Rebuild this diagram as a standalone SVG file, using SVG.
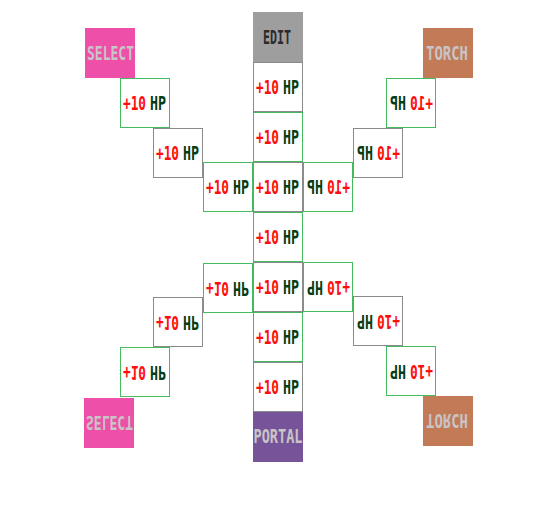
<svg xmlns="http://www.w3.org/2000/svg" width="556" height="506" viewBox="0 0 556 506">
<style>
.t{fill:#ffffff;stroke-width:1}
.g{stroke:#8a8a8a}
.n{stroke:#45ba5e}
text{font-family:"DejaVu Sans Mono","Liberation Mono",monospace;font-weight:bold;font-size:19.5px}
.r{fill:#ff0d0d}
.h{fill:#063d14}
.lbl{fill:#c9c4c6}
</style>
<defs>
<g id="hp">
<text x="3" y="31.5" class="r" textLength="23" lengthAdjust="spacingAndGlyphs">+10</text>
<text x="30" y="31.5" class="h" textLength="16" lengthAdjust="spacingAndGlyphs">HP</text>
</g>
</defs>
<rect width="556" height="506" fill="#ffffff"/>
<g id="connectors"/>
<g id="edit" transform="translate(253,12)"><rect width="50" height="50" fill="#9e9e9e"/><text x="10" y="32" fill="#2b2b2b" textLength="28" lengthAdjust="spacingAndGlyphs">EDIT</text></g>
<g id="select-top" transform="translate(85,28)"><rect width="50" height="50" fill="#ee4fa8"/><text x="2" y="32" class="lbl" textLength="47" lengthAdjust="spacingAndGlyphs">SELECT</text></g>
<g id="torch-top" transform="translate(423,28)"><rect width="50" height="50" fill="#c27a57"/><text x="3" y="32" class="lbl" textLength="42" lengthAdjust="spacingAndGlyphs">TORCH</text></g>
<g id="portal" transform="translate(253,412)"><rect width="50" height="50" fill="#77539a"/><text x="0.5" y="31" class="lbl" textLength="49" lengthAdjust="spacingAndGlyphs">PORTAL</text></g>
<g id="select-bottom" transform="translate(84,398)"><rect width="50" height="50" fill="#ee4fa8"/><g transform="translate(0,50) scale(1,-1)"><text x="2" y="32" class="lbl" textLength="47" lengthAdjust="spacingAndGlyphs">SELECT</text></g></g>
<g id="torch-bottom" transform="translate(423,396)"><rect width="50" height="50" fill="#c27a57"/><g transform="translate(0,50) scale(1,-1)"><text x="3" y="32" class="lbl" textLength="42" lengthAdjust="spacingAndGlyphs">TORCH</text></g></g>
<g id="col1" transform="translate(253,62)"><rect x="0.5" y="0.5" width="49" height="49" class="t g"/><use href="#hp"/></g>
<g id="col2" transform="translate(253,112)"><rect x="0.5" y="0.5" width="49" height="49" class="t n"/><use href="#hp"/></g>
<g id="col4" transform="translate(253,212)"><rect x="0.5" y="0.5" width="49" height="49" class="t n"/><use href="#hp"/></g>
<g id="col6" transform="translate(253,312)"><rect x="0.5" y="0.5" width="49" height="49" class="t n"/><use href="#hp"/></g>
<g id="col7" transform="translate(253,362)"><rect x="0.5" y="0.5" width="49" height="49" class="t g"/><use href="#hp"/></g>
<g id="ul1" transform="translate(120,78)"><rect x="0.5" y="0.5" width="49" height="49" class="t n"/><use href="#hp"/></g>
<g id="ul2" transform="translate(153,128)"><rect x="0.5" y="0.5" width="49" height="49" class="t g"/><use href="#hp"/></g>
<g id="ul3" transform="translate(203,162)"><rect x="0.5" y="0.5" width="49" height="49" class="t n"/><use href="#hp"/></g>
<g id="ur3" transform="translate(303,162)"><rect x="0.5" y="0.5" width="49" height="49" class="t n"/><use href="#hp" transform="translate(50,0) scale(-1,1)"/></g>
<g id="ur2" transform="translate(353,128)"><rect x="0.5" y="0.5" width="49" height="49" class="t g"/><use href="#hp" transform="translate(50,0) scale(-1,1)"/></g>
<g id="ur1" transform="translate(386,78)"><rect x="0.5" y="0.5" width="49" height="49" class="t n"/><use href="#hp" transform="translate(50,0) scale(-1,1)"/></g>
<g id="ll3" transform="translate(203,263)"><rect x="0.5" y="0.5" width="49" height="49" class="t n"/><use href="#hp" transform="translate(0,50) scale(1,-1)"/></g>
<g id="ll2" transform="translate(153,297)"><rect x="0.5" y="0.5" width="49" height="49" class="t g"/><use href="#hp" transform="translate(0,50) scale(1,-1)"/></g>
<g id="ll1" transform="translate(120,347)"><rect x="0.5" y="0.5" width="49" height="49" class="t n"/><use href="#hp" transform="translate(0,50) scale(1,-1)"/></g>
<g id="lr3" transform="translate(303,262)"><rect x="0.5" y="0.5" width="49" height="49" class="t n"/><use href="#hp" transform="rotate(180 25 25)"/></g>
<g id="lr2" transform="translate(353,296)"><rect x="0.5" y="0.5" width="49" height="49" class="t g"/><use href="#hp" transform="rotate(180 25 25)"/></g>
<g id="lr1" transform="translate(386,346)"><rect x="0.5" y="0.5" width="49" height="49" class="t n"/><use href="#hp" transform="rotate(180 25 25)"/></g>
<g id="col3" transform="translate(253,162)"><rect x="0.5" y="0.5" width="49" height="49" class="t g"/><use href="#hp"/></g>
<g id="col5" transform="translate(253,262)"><rect x="0.5" y="0.5" width="49" height="49" class="t g"/><use href="#hp"/></g>
</svg>
